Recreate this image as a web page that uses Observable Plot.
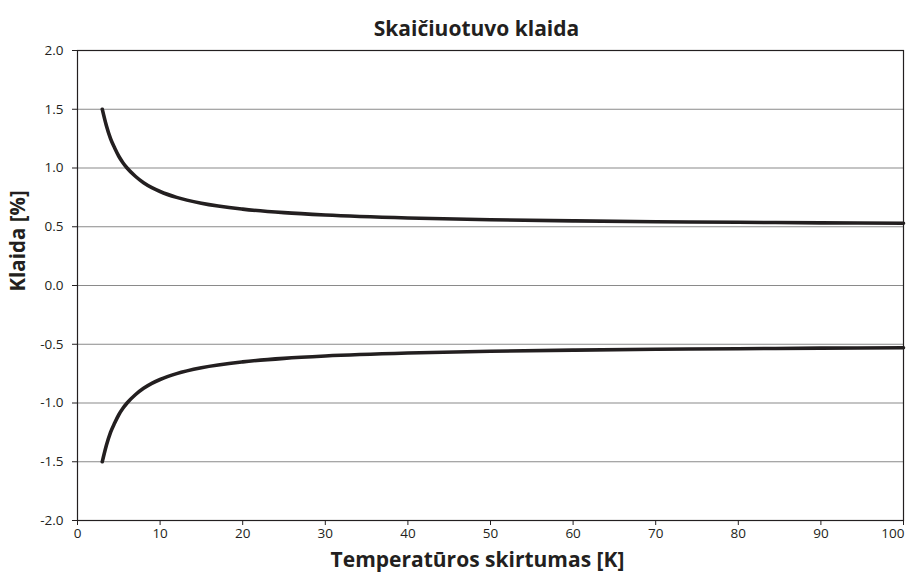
<!DOCTYPE html>
<html>
<head>
<meta charset="utf-8">
<script src="https://cdn.jsdelivr.net/npm/d3@7"></script>
<script src="https://cdn.jsdelivr.net/npm/@observablehq/plot@0.6"></script>
<style>
  body { margin: 0; background: #fff; font-family: "Open Sans", sans-serif; }
  #title { height: 40px; width: 913px; text-align: center; font-weight: bold; font-size: 21px; line-height: 26px; padding-top: 15px; padding-left: 40px; box-sizing: border-box; color: #231f20; }
</style>
</head>
<body>
<div id="title">Skaičiuotuvo klaida</div>
<div id="chart"></div>
<script>
const tempDiff = [3, 3.5, 4, 4.5, 5, 5.5, 6, 7, 8, 9, 10, 12, 15, 20, 25, 30, 40, 50, 60, 70, 80, 90, 100];
const upperError = [1.5, 1.36, 1.25, 1.17, 1.1, 1.045, 1.0, 0.93, 0.875, 0.833, 0.8, 0.75, 0.7, 0.65, 0.62, 0.6, 0.575, 0.56, 0.55, 0.543, 0.538, 0.533, 0.53];
const lowerError = [-1.5, -1.36, -1.25, -1.17, -1.1, -1.045, -1.0, -0.93, -0.875, -0.833, -0.8, -0.75, -0.7, -0.65, -0.62, -0.6, -0.575, -0.56, -0.55, -0.543, -0.538, -0.533, -0.53];
const xTicks = [0, 10, 20, 30, 40, 50, 60, 70, 80, 90, 100];
const yTicks = [-2.0, -1.5, -1.0, -0.5, 0.0, 0.5, 1.0, 1.5, 2.0];

const upper = tempDiff.map((x, i) => ({x, y: upperError[i]}));
const lower = tempDiff.map((x, i) => ({x, y: lowerError[i]}));
const ink = "#231f20";
const tickFont = 13.5;

const plot = Plot.plot({
  width: 913,
  height: 539,
  marginLeft: 77,
  marginRight: 10,
  marginTop: 10,
  marginBottom: 59,
  style: { fontFamily: "Open Sans, sans-serif", fontSize: "13px", color: ink, background: "#fff" },
  x: { domain: [0, 100], label: null },
  y: { domain: [-2, 2], label: null },
  marks: [
    Plot.ruleY(yTicks, { stroke: "#8a8a8a", strokeWidth: 1.2 }),
    Plot.frame({ stroke: ink, strokeWidth: 1.2 }),
    Plot.axisX({ ticks: xTicks, tickSize: 5, text: null, label: null, stroke: ink }),
    Plot.axisY({ ticks: yTicks, tickSize: 5, text: null, label: null, stroke: ink }),
    Plot.text(xTicks.slice(0, -1), { x: d => d, frameAnchor: "bottom", dy: 17, fontSize: tickFont, fill: ink, text: d => String(d) }),
    Plot.text(xTicks.slice(-1), { x: d => d, frameAnchor: "bottom", dy: 17, dx: 1, textAnchor: "end", fontSize: tickFont, fill: ink, text: d => String(d) }),
    Plot.text(yTicks, { y: d => d, frameAnchor: "left", dx: -14, textAnchor: "end", fontSize: tickFont, fill: ink, text: d => d.toFixed(1) }),
    Plot.line(upper, { x: "x", y: "y", stroke: ink, strokeWidth: 3.6, curve: "monotone-x" }),
    Plot.line(lower, { x: "x", y: "y", stroke: ink, strokeWidth: 3.6, curve: "monotone-x" }),
    Plot.text(["Temperatūros skirtumas [K]"], { frameAnchor: "bottom", dy: 46, dx: -13, fontWeight: "bold", fontSize: 21, fill: ink }),
    Plot.text(["Klaida [%]"], { frameAnchor: "left", dx: -59, dy: 6, rotate: -90, fontWeight: "bold", fontSize: 20.5, fill: ink })
  ]
});
document.getElementById("chart").appendChild(plot);
</script>
</body>
</html>
